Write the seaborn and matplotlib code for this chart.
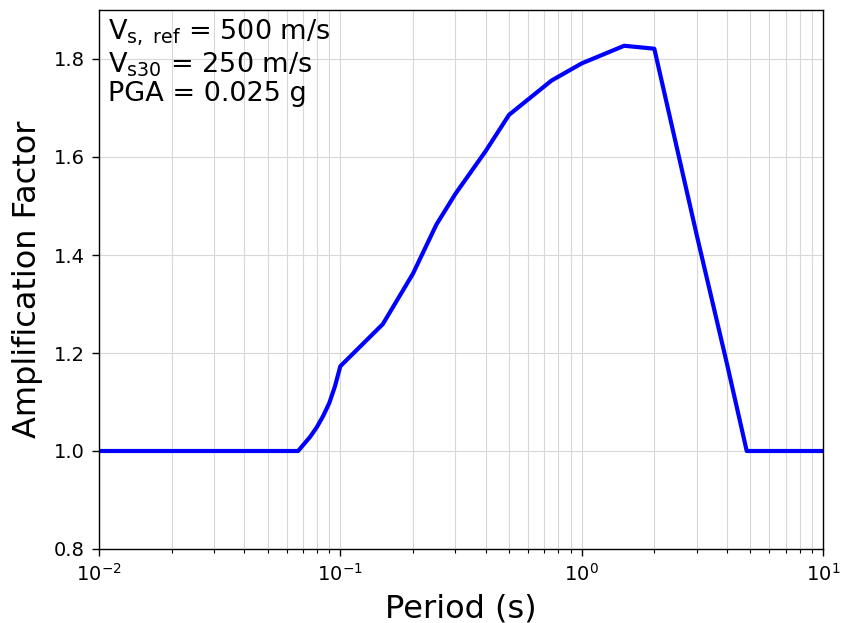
import matplotlib
matplotlib.use("Agg")
import matplotlib.pyplot as plt
import seaborn as sns
import pandas as pd

period = [0.01, 0.02, 0.03, 0.05, 0.0668, 0.075, 0.08, 0.085, 0.09, 0.095, 0.1,
          0.15, 0.2, 0.25, 0.3, 0.4, 0.5, 0.75, 1.0, 1.5, 2.0, 3.0, 4.0, 4.83, 5.0, 7.5, 10.0]
amplification = [1.0, 1.0, 1.0, 1.0, 1.0, 1.029, 1.049, 1.072, 1.098, 1.132, 1.173,
                 1.259, 1.362, 1.462, 1.525, 1.612, 1.686, 1.756, 1.791, 1.827, 1.821,
                 1.44, 1.178, 1.0, 1.0, 1.0, 1.0]

annotation = "V$_{\\rm s,\\ ref}$ = 500 m/s\nV$_{\\rm s30}$ = 250 m/s\nPGA = 0.025 g"

sns.set_style("ticks")
plt.rcParams['font.family'] = ['DejaVu Sans']
plt.rcParams['mathtext.default'] = 'regular'
plt.rcParams['text.color'] = 'black'
plt.rcParams['axes.labelcolor'] = 'black'
plt.rcParams['xtick.color'] = 'black'
plt.rcParams['ytick.color'] = 'black'

df = pd.DataFrame({"Period": period, "Amp": amplification})

fig = plt.figure(figsize=(8.43, 6.23), dpi=100)
ax = fig.add_axes([99/843, 1 - 549/623, (823 - 99)/843, (549 - 10)/623])

sns.lineplot(data=df, x="Period", y="Amp", ax=ax, color="blue", linewidth=3,
             estimator=None, sort=True)

ax.set_xscale("log")
ax.set_xlim(0.01, 10)
ax.set_ylim(0.8, 1.9)
ax.set_yticks([0.8, 1.0, 1.2, 1.4, 1.6, 1.8])
ax.grid(True, which="both", color="#d8d8d8", linewidth=0.8)
ax.set_axisbelow(True)
for s in ax.spines.values():
    s.set_visible(True)
    s.set_color("black")
    s.set_linewidth(1.0)

ax.tick_params(axis="both", which="major", labelsize=14, length=5, width=1,
               direction="out", pad=5)
ax.tick_params(axis="x", which="minor", length=3, width=0.8, direction="out")
ax.set_xlabel("Period (s)", fontsize=23, labelpad=6)
ax.set_ylabel("Amplification Factor", fontsize=23, labelpad=8)

ax.text(0.012, 0.985, annotation, transform=ax.transAxes, fontsize=19.5,
        va="top", ha="left", linespacing=1.1)

fig.savefig("out.png", dpi=100)
